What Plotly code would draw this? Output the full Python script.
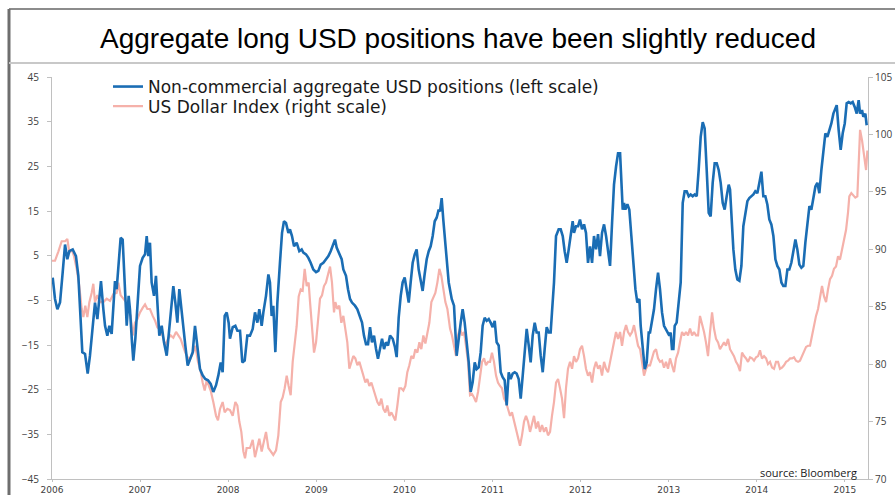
import pandas as pd
import plotly.graph_objects as go

# ---------------- data ----------------
title_text = "Aggregate long USD positions have been slightly reduced"
name_positions = "Non-commercial aggregate USD positions (left scale)"
name_dollar = "US Dollar Index (right scale)"
source_note = "source: Bloomberg"
year_ticks = list(range(2006, 2016))
left_ticks = [-45, -35, -25, -15, -5, 5, 15, 25, 35, 45]
right_ticks = [70, 75, 80, 85, 90, 95, 100, 105]

# (decimal year, net positions in USD bn) – left scale
positions = [
    (2006.008, 0.1), (2006.034, -4.7), (2006.061, -7.0), (2006.091, -5.5), (2006.121, 1.2), (2006.148, 7.5),
    (2006.174, 4.2), (2006.197, 6.0), (2006.235, 6.4), (2006.272, 4.9), (2006.299, 0.5), (2006.325, -10.0),
    (2006.344, -16.6), (2006.375, -17.0), (2006.405, -21.4), (2006.431, -17.4), (2006.462, -10.0), (2006.488, -5.5),
    (2006.515, -9.2), (2006.537, -4.0), (2006.556, -0.7), (2006.583, -7.0), (2006.602, -10.7), (2006.628, -12.9),
    (2006.651, -10.7), (2006.677, -12.5), (2006.696, -5.5), (2006.715, -0.7), (2006.734, -2.5), (2006.761, 4.2),
    (2006.779, 9.0), (2006.802, 8.6), (2006.825, -1.0), (2006.848, -10.7), (2006.870, -4.0), (2006.885, -7.0),
    (2006.908, -14.4), (2006.923, -18.5), (2006.946, -13.6), (2006.969, -7.0), (2006.999, 2.7), (2007.029, 4.5),
    (2007.056, 5.3), (2007.075, 9.4), (2007.093, 4.9), (2007.112, 7.9), (2007.131, -1.0), (2007.158, -4.0),
    (2007.180, 0.5), (2007.196, -5.5), (2007.218, -12.9), (2007.245, -10.7), (2007.271, -14.4), (2007.302, -17.4),
    (2007.324, -12.9), (2007.347, -7.7), (2007.377, -1.8), (2007.400, -5.5), (2007.423, -10.0), (2007.445, -2.5),
    (2007.468, -7.0), (2007.491, -12.2), (2007.513, -15.1), (2007.540, -19.6), (2007.566, -18.1), (2007.597, -16.6),
    (2007.623, -10.7), (2007.650, -15.9), (2007.680, -20.4), (2007.710, -21.8), (2007.740, -22.6), (2007.771, -22.9),
    (2007.801, -23.7), (2007.831, -25.5), (2007.862, -24.0), (2007.888, -21.8), (2007.915, -18.9), (2007.937, -21.1),
    (2007.960, -8.5), (2007.983, -7.7), (2008.005, -10.0), (2008.020, -13.6), (2008.051, -11.0), (2008.081, -10.7),
    (2008.104, -11.8), (2008.134, -11.8), (2008.160, -18.9), (2008.187, -18.5), (2008.217, -12.9),
    (2008.247, -12.9), (2008.278, -11.4), (2008.304, -7.7), (2008.331, -10.0), (2008.353, -7.0), (2008.380, -10.7),
    (2008.399, -7.7), (2008.429, -4.0), (2008.456, 0.8), (2008.474, -1.0), (2008.493, -8.5), (2008.512, -6.2),
    (2008.535, -16.6), (2008.558, -5.5), (2008.588, 3.6), (2008.611, 10.1), (2008.633, 12.7), (2008.656, 12.3),
    (2008.683, 10.1), (2008.701, 10.9), (2008.724, 9.4), (2008.747, 7.1), (2008.777, 7.9), (2008.807, 6.0),
    (2008.834, 6.4), (2008.853, 5.7), (2008.883, 5.3), (2008.910, 4.5), (2008.936, 3.4), (2008.966, 1.9),
    (2008.997, 1.3), (2009.023, 1.6), (2009.050, 3.0), (2009.080, 3.4), (2009.110, 4.2), (2009.137, 4.9),
    (2009.163, 6.0), (2009.193, 7.5), (2009.212, 8.6), (2009.231, 6.8), (2009.261, 5.3), (2009.288, 4.2),
    (2009.307, 1.9), (2009.337, 0.5), (2009.360, -2.5), (2009.383, -4.7), (2009.405, -5.5), (2009.439, -6.2),
    (2009.466, -7.0), (2009.496, -8.5), (2009.519, -10.0), (2009.541, -12.9), (2009.564, -14.8), (2009.587, -14.8),
    (2009.610, -11.0), (2009.632, -14.4), (2009.655, -12.9), (2009.678, -15.9), (2009.700, -18.1), (2009.723, -15.9),
    (2009.746, -13.6), (2009.769, -15.9), (2009.791, -14.4), (2009.814, -15.1), (2009.837, -12.9), (2009.867, -13.6),
    (2009.893, -15.5), (2009.912, -17.7), (2009.935, -8.9), (2009.958, -4.0), (2009.980, -1.0), (2010.003, 0.1),
    (2010.026, -2.5), (2010.049, -5.5), (2010.071, -1.0), (2010.094, 3.4), (2010.117, 5.3), (2010.139, 6.4),
    (2010.162, 1.9), (2010.185, -1.0), (2010.207, -2.9), (2010.230, 0.9), (2010.253, 4.2), (2010.276, 6.0),
    (2010.298, 7.1), (2010.321, 9.4), (2010.344, 12.7), (2010.366, 13.5), (2010.389, 15.3), (2010.404, 14.9),
    (2010.423, 17.9), (2010.442, 12.9), (2010.461, 8.6), (2010.480, 4.9), (2010.503, -1.0),
    (2010.537, -4.7), (2010.563, -6.2), (2010.593, -17.4), (2010.616, -12.9), (2010.639, -10.0), (2010.661, -7.0),
    (2010.684, -10.0), (2010.707, -14.4), (2010.730, -18.9), (2010.752, -25.5), (2010.775, -23.3), (2010.798, -18.9),
    (2010.820, -20.4), (2010.843, -20.0), (2010.866, -16.6), (2010.888, -10.7), (2010.911, -8.9), (2010.934, -9.6),
    (2010.957, -9.2), (2010.979, -10.0), (2011.002, -11.0), (2011.025, -9.6), (2011.047, -14.4), (2011.070, -15.1),
    (2011.093, -21.1), (2011.115, -22.2), (2011.138, -22.9), (2011.161, -28.5), (2011.184, -21.1), (2011.206, -22.6),
    (2011.229, -21.4), (2011.252, -21.1), (2011.274, -21.4), (2011.297, -22.6), (2011.320, -27.0), (2011.343, -21.8),
    (2011.365, -17.4), (2011.388, -11.4), (2011.411, -15.1), (2011.433, -18.9), (2011.456, -12.9), (2011.479, -10.0),
    (2011.501, -12.2), (2011.524, -12.2), (2011.547, -17.4), (2011.570, -21.1), (2011.592, -15.9), (2011.615, -11.0),
    (2011.638, -12.2), (2011.660, -12.2), (2011.675, -7.7), (2011.698, -1.0), (2011.721, 9.4), (2011.751, 10.9),
    (2011.774, 10.9), (2011.797, 9.4), (2011.819, 6.0), (2011.842, 3.4), (2011.865, 6.4), (2011.887, 10.1),
    (2011.910, 12.7), (2011.925, 10.1), (2011.948, 11.6), (2011.971, 11.6), (2011.993, 13.1), (2012.016, 10.9),
    (2012.039, 12.0), (2012.061, 10.1), (2012.084, 3.4), (2012.107, 7.1), (2012.130, 3.4), (2012.152, 9.4),
    (2012.175, 6.4), (2012.198, 9.8), (2012.220, 4.9), (2012.243, 10.1), (2012.266, 12.0), (2012.289, 9.4),
    (2012.311, 6.4), (2012.334, 2.7), (2012.357, 12.3), (2012.379, 20.9), (2012.402, 24.9), (2012.425, 27.9),
    (2012.448, 27.9), (2012.463, 22.7), (2012.478, 15.3), (2012.493, 16.8), (2012.508, 15.3), (2012.531, 16.5),
    (2012.553, 15.3), (2012.576, 9.4), (2012.599, 2.7), (2012.622, -2.5), (2012.644, -5.5), (2012.667, -4.7),
    (2012.682, -10.7), (2012.705, -15.1), (2012.728, -20.4), (2012.750, -18.9), (2012.773, -12.2),
    (2012.788, -12.2), (2012.810, -10.0), (2012.833, -7.0), (2012.856, -2.5), (2012.879, 1.2), (2012.901, -2.5),
    (2012.924, -7.7), (2012.947, -10.7), (2012.969, -11.4), (2012.992, -12.2), (2013.007, -12.9), (2013.022, -12.2),
    (2013.037, -15.9), (2013.053, -15.9), (2013.068, -10.7), (2013.090, -10.0), (2013.113, -5.5), (2013.136, -1.0),
    (2013.159, 16.8), (2013.181, 19.4), (2013.204, 19.4), (2013.227, 18.3), (2013.249, 18.7), (2013.272, 18.3),
    (2013.295, 18.7), (2013.318, 18.3), (2013.340, 24.2), (2013.363, 31.6), (2013.386, 34.9), (2013.408, 33.5),
    (2013.431, 24.2), (2013.454, 14.6), (2013.476, 13.8), (2013.499, 21.3), (2013.522, 25.7), (2013.545, 25.7),
    (2013.567, 24.2), (2013.590, 21.3), (2013.613, 16.8), (2013.635, 15.3), (2013.658, 18.3), (2013.681, 20.9),
    (2013.696, 19.8), (2013.711, 13.1), (2013.734, 6.4), (2013.756, 1.9), (2013.779, -0.3), (2013.802, -0.6),
    (2013.825, 2.7), (2013.847, 11.6), (2013.870, 14.6), (2013.893, 17.2), (2013.915, 17.9), (2013.938, 18.3),
    (2013.961, 18.7), (2013.983, 19.4), (2014.006, 19.0), (2014.029, 21.3), (2014.052, 23.8), (2014.074, 18.3),
    (2014.097, 18.3), (2014.120, 16.4), (2014.142, 13.1), (2014.165, 12.0), (2014.188, 9.4), (2014.211, 4.2),
    (2014.233, 2.7), (2014.256, 1.9), (2014.279, -1.0), (2014.301, -1.8), (2014.324, -1.8), (2014.347, 1.9),
    (2014.369, 1.9), (2014.392, 3.4), (2014.415, 6.4), (2014.438, 8.6), (2014.460, 6.4), (2014.483, 3.0),
    (2014.506, 2.3), (2014.528, 2.7), (2014.551, 7.9), (2014.574, 12.3), (2014.597, 16.1), (2014.619, 15.3),
    (2014.642, 18.3), (2014.665, 20.5), (2014.687, 21.3), (2014.710, 19.0), (2014.733, 24.2), (2014.755, 28.7),
    (2014.778, 32.4), (2014.801, 31.6), (2014.823, 33.1), (2014.846, 34.6), (2014.869, 36.8), (2014.892, 38.3),
    (2014.907, 38.7), (2014.929, 33.1), (2014.952, 28.7), (2014.975, 32.4), (2014.998, 34.6), (2015.020, 39.1),
    (2015.043, 39.4), (2015.066, 39.1), (2015.088, 39.4), (2015.111, 38.3), (2015.134, 36.8), (2015.156, 39.8),
    (2015.172, 36.8), (2015.194, 37.6), (2015.209, 36.1), (2015.232, 36.8), (2015.247, 34.2),
]

# (decimal year, DXY level) – right scale
dollar_index = [
    (2006.000, 89.0), (2006.034, 89.0), (2006.072, 89.8), (2006.110, 90.7), (2006.148, 90.7), (2006.174, 90.9),
    (2006.197, 89.7), (2006.223, 90.0), (2006.250, 89.4), (2006.280, 88.3), (2006.310, 86.8), (2006.337, 84.8),
    (2006.356, 84.1), (2006.378, 85.1), (2006.401, 84.1), (2006.424, 85.4), (2006.450, 86.2), (2006.469, 87.0),
    (2006.488, 85.4), (2006.515, 86.0), (2006.545, 85.4), (2006.583, 85.4), (2006.621, 85.7), (2006.658, 85.5),
    (2006.696, 86.1), (2006.734, 86.2), (2006.753, 87.1), (2006.779, 86.0), (2006.810, 85.7), (2006.840, 85.4),
    (2006.866, 84.8), (2006.893, 84.2), (2006.916, 82.5), (2006.942, 83.6), (2006.969, 83.9), (2006.999, 84.5),
    (2007.029, 84.9), (2007.056, 85.2), (2007.082, 84.8), (2007.112, 84.8), (2007.143, 84.2), (2007.169, 83.8),
    (2007.196, 83.2), (2007.226, 83.0), (2007.256, 82.5), (2007.286, 81.6), (2007.317, 82.2), (2007.347, 82.5),
    (2007.377, 82.3), (2007.408, 82.8), (2007.434, 82.5), (2007.460, 82.2), (2007.491, 81.5), (2007.513, 81.0),
    (2007.540, 80.6), (2007.566, 80.4), (2007.597, 80.9), (2007.627, 81.6), (2007.657, 80.2), (2007.687, 79.4),
    (2007.710, 78.4), (2007.733, 77.7), (2007.756, 78.6), (2007.778, 78.1), (2007.801, 77.7), (2007.831, 76.7),
    (2007.862, 75.5), (2007.884, 75.1), (2007.907, 76.1), (2007.937, 76.7), (2007.960, 75.8), (2007.990, 76.1),
    (2008.020, 76.0), (2008.051, 75.5), (2008.081, 76.7), (2008.104, 76.4), (2008.126, 75.0), (2008.149, 74.1),
    (2008.172, 72.4), (2008.191, 71.8), (2008.209, 72.7),
    (2008.247, 72.7), (2008.278, 73.4), (2008.304, 71.9), (2008.331, 72.9), (2008.353, 73.5), (2008.380, 72.4),
    (2008.406, 73.2), (2008.429, 74.1), (2008.456, 72.7), (2008.482, 72.4), (2008.512, 72.1), (2008.543, 72.5),
    (2008.569, 73.8), (2008.596, 76.7), (2008.618, 77.1), (2008.641, 77.9), (2008.664, 79.0), (2008.686, 78.1),
    (2008.709, 77.3), (2008.732, 80.2), (2008.754, 81.9), (2008.777, 83.3), (2008.800, 85.9), (2008.823, 86.5),
    (2008.845, 86.4), (2008.868, 88.3), (2008.891, 86.8), (2008.913, 87.1), (2008.929, 85.4), (2008.951, 82.8),
    (2008.974, 81.0), (2008.997, 81.9), (2009.019, 83.6), (2009.042, 85.7), (2009.065, 86.0), (2009.087, 86.8),
    (2009.110, 87.1), (2009.133, 87.7), (2009.156, 88.5), (2009.178, 87.1), (2009.201, 84.5), (2009.216, 85.4),
    (2009.239, 84.8), (2009.261, 85.1), (2009.284, 83.6), (2009.307, 84.2), (2009.330, 82.8), (2009.352, 81.9),
    (2009.375, 79.6), (2009.398, 80.2), (2009.420, 80.7), (2009.443, 80.5), (2009.466, 79.9), (2009.489, 80.2),
    (2009.511, 79.6), (2009.534, 79.0), (2009.557, 78.4), (2009.579, 78.7), (2009.602, 78.1), (2009.625, 78.4),
    (2009.647, 77.9), (2009.670, 77.3), (2009.693, 76.7), (2009.716, 76.4), (2009.738, 77.0), (2009.761, 76.1),
    (2009.784, 75.8), (2009.806, 76.4), (2009.829, 75.5), (2009.852, 75.8), (2009.875, 75.4), (2009.897, 75.1),
    (2009.920, 76.4), (2009.943, 77.9), (2009.965, 77.9), (2009.988, 77.7), (2010.011, 78.1), (2010.033, 79.3),
    (2010.056, 79.9), (2010.079, 80.7), (2010.102, 80.5), (2010.124, 81.3), (2010.147, 81.0), (2010.170, 81.9),
    (2010.192, 81.3), (2010.215, 82.5), (2010.238, 81.8), (2010.260, 82.8), (2010.283, 83.6), (2010.306, 85.4),
    (2010.329, 85.9), (2010.351, 86.2), (2010.374, 87.1), (2010.397, 88.3), (2010.419, 87.7), (2010.442, 86.5),
    (2010.465, 85.4), (2010.488, 84.8), (2010.510, 83.6),
    (2010.518, 83.1), (2010.540, 82.5), (2010.563, 81.6), (2010.586, 80.7), (2010.608, 82.5), (2010.631, 83.1),
    (2010.654, 82.5), (2010.677, 82.8), (2010.699, 81.6), (2010.722, 80.2), (2010.745, 77.3), (2010.767, 77.4),
    (2010.790, 77.1), (2010.813, 76.7), (2010.836, 77.6), (2010.858, 79.0), (2010.881, 80.2), (2010.904, 80.5),
    (2010.926, 79.9), (2010.949, 80.2), (2010.972, 80.2), (2010.994, 81.0), (2011.017, 80.2), (2011.040, 79.0),
    (2011.062, 78.4), (2011.085, 78.1), (2011.108, 77.9), (2011.131, 77.0), (2011.153, 76.7), (2011.176, 76.1),
    (2011.199, 75.5), (2011.221, 75.8), (2011.244, 75.0), (2011.267, 74.4), (2011.290, 73.5), (2011.312, 72.9),
    (2011.335, 73.8), (2011.358, 75.0), (2011.380, 75.5), (2011.403, 75.0), (2011.426, 74.1), (2011.448, 74.7),
    (2011.471, 75.5), (2011.494, 74.4), (2011.517, 75.0), (2011.539, 74.1), (2011.562, 74.7), (2011.585, 74.1),
    (2011.607, 74.5), (2011.630, 73.8), (2011.653, 74.1), (2011.675, 75.5), (2011.698, 76.7), (2011.721, 78.4),
    (2011.744, 78.7), (2011.766, 77.9), (2011.789, 77.0), (2011.812, 75.3), (2011.834, 77.9), (2011.857, 79.6),
    (2011.880, 80.2), (2011.903, 79.6), (2011.925, 80.7), (2011.948, 80.2), (2011.971, 80.5), (2011.993, 81.3),
    (2012.016, 81.6), (2012.039, 80.7), (2012.061, 79.6), (2012.084, 79.0), (2012.107, 79.3), (2012.130, 78.4),
    (2012.152, 79.6), (2012.175, 80.2), (2012.198, 79.6), (2012.220, 79.9), (2012.243, 79.0), (2012.266, 80.2),
    (2012.289, 79.6), (2012.311, 79.3), (2012.334, 80.2), (2012.357, 81.3), (2012.379, 82.2), (2012.402, 82.8),
    (2012.425, 82.2), (2012.448, 82.8), (2012.470, 81.6), (2012.493, 82.8), (2012.516, 83.4), (2012.538, 82.8),
    (2012.561, 82.5), (2012.584, 82.8), (2012.606, 83.4), (2012.629, 82.5), (2012.652, 81.6), (2012.675, 81.3),
    (2012.697, 80.2), (2012.720, 79.0), (2012.743, 79.6), (2012.765, 79.9),
    (2012.788, 79.9), (2012.810, 80.5), (2012.833, 81.1), (2012.856, 81.3), (2012.879, 80.5), (2012.901, 80.2),
    (2012.924, 80.3), (2012.947, 79.7), (2012.969, 80.2), (2012.992, 79.6), (2013.015, 80.5), (2013.037, 79.9),
    (2013.060, 79.3), (2013.083, 80.5), (2013.106, 81.0), (2013.128, 81.9), (2013.151, 82.8), (2013.174, 82.5),
    (2013.196, 82.8), (2013.219, 82.5), (2013.242, 83.1), (2013.265, 82.5), (2013.287, 82.8), (2013.310, 82.5),
    (2013.333, 82.5), (2013.355, 84.2), (2013.378, 83.6), (2013.401, 82.8), (2013.423, 81.9), (2013.446, 80.7),
    (2013.469, 82.8), (2013.492, 84.5), (2013.514, 83.1), (2013.537, 82.2), (2013.560, 81.9), (2013.582, 81.3),
    (2013.605, 81.6), (2013.628, 81.9), (2013.650, 81.6), (2013.673, 82.2), (2013.696, 81.3), (2013.719, 81.0),
    (2013.741, 80.7), (2013.764, 80.2), (2013.787, 79.9), (2013.809, 79.4), (2013.832, 81.0), (2013.855, 80.7),
    (2013.878, 80.5), (2013.900, 80.2), (2013.923, 80.6), (2013.946, 80.5), (2013.968, 80.3), (2013.991, 80.6),
    (2014.014, 80.7), (2014.036, 81.2), (2014.059, 80.5), (2014.082, 80.7), (2014.105, 80.5), (2014.127, 80.0),
    (2014.150, 80.2), (2014.173, 79.7), (2014.195, 79.6), (2014.218, 80.2), (2014.241, 80.2), (2014.263, 79.6),
    (2014.286, 79.7), (2014.309, 79.9), (2014.332, 80.2), (2014.354, 80.3), (2014.377, 80.5), (2014.400, 80.5),
    (2014.422, 80.6), (2014.445, 80.3), (2014.468, 80.2), (2014.490, 80.3), (2014.513, 80.7), (2014.536, 81.2),
    (2014.559, 81.5), (2014.581, 81.6), (2014.604, 81.6), (2014.627, 82.5), (2014.649, 83.4), (2014.672, 84.2),
    (2014.695, 84.8), (2014.717, 85.7), (2014.740, 86.8), (2014.763, 85.9), (2014.786, 85.4), (2014.808, 86.5),
    (2014.831, 87.4), (2014.854, 87.7), (2014.876, 88.3), (2014.899, 88.5), (2014.922, 89.4), (2014.944, 89.1),
    (2014.967, 90.0), (2014.990, 90.6), (2015.013, 91.7), (2015.035, 93.2), (2015.050, 94.6), (2015.073, 94.9),
    (2015.096, 94.7), (2015.118, 94.5), (2015.141, 94.6), (2015.156, 96.9), (2015.172, 100.4), (2015.194, 99.5),
    (2015.217, 98.1), (2015.240, 96.9), (2015.255, 98.6),
]


def to_date(decimal_year):
    return pd.Timestamp("2006-01-01") + pd.Timedelta(days=(decimal_year - 2006) * 365.25)


pos_x = [to_date(t) for t, _ in positions]
pos_y = [v for _, v in positions]
dxy_x = [to_date(t) for t, _ in dollar_index]
dxy_y = [v for _, v in dollar_index]

# ---------------- layout geometry ----------------
W, H = 895, 495
ML, MR, MT, MB = 52, 27, 77, 16
PW, PH = W - ML - MR, H - MT - MB


def px(x):
    return (x - ML) / PW


def py(y):
    return 1 - (y - MT) / PH


BLUE = "#1a6db4"
PINK = "#f5b1aa"
AXIS = "#c0c0c0"
TICKFONT = dict(family="Open Sans, Lato, sans-serif", size=10, color="#404040")
XTICKFONT = dict(family="DejaVu Sans, sans-serif", size=9, color="#404040")
LEGENDFONT = dict(family="DejaVu Sans, sans-serif", size=17, color="#1a1a1a")

fig = go.Figure()
fig.add_trace(go.Scatter(x=pos_x, y=pos_y, name=name_positions, mode="lines",
                         line=dict(color=BLUE, width=2.6), yaxis="y2", legend="legend"))
fig.add_trace(go.Scatter(x=dxy_x, y=dxy_y, name=name_dollar, mode="lines",
                         line=dict(color=PINK, width=2.2), yaxis="y", legend="legend2"))

legend_common = dict(xanchor="left", yanchor="middle", bgcolor="rgba(0,0,0,0)",
                     itemwidth=30, font=LEGENDFONT, borderwidth=0)

fig.update_layout(
    width=W, height=H,
    margin=dict(l=ML, r=MR, t=MT, b=MB, autoexpand=False),
    paper_bgcolor="white", plot_bgcolor="white",
    showlegend=True,
    legend=dict(x=px(108), y=py(87), **legend_common),
    legend2=dict(x=px(108), y=py(106.5), **legend_common),
    xaxis=dict(type="date", range=[to_date(2006.0), to_date(2015.262)],
               tickvals=[pd.Timestamp(f"{y}-01-01") for y in year_ticks],
               ticktext=[str(y) for y in year_ticks],
               ticks="outside", ticklen=2, tickcolor=AXIS, showline=True, linecolor=AXIS,
               linewidth=1, showgrid=False, zeroline=False, tickfont=XTICKFONT, automargin=False),
    yaxis=dict(range=[70, 105], tickvals=right_ticks, side="right",
               ticks="outside", ticklen=4, tickcolor=AXIS, showline=True, linecolor=AXIS,
               linewidth=1, showgrid=False, zeroline=False, tickfont=TICKFONT, automargin=False),
    yaxis2=dict(range=[-45, 45], tickvals=left_ticks, side="left", overlaying="y",
                ticks="outside", ticklen=4, tickcolor=AXIS, showline=True, linecolor=AXIS,
                linewidth=1, showgrid=False, zeroline=False, tickfont=TICKFONT, automargin=False,
                ticklabelstandoff=6),
)

# title
fig.add_annotation(text=title_text, xref="paper", yref="paper", x=px(458), y=py(38),
                   xanchor="center", yanchor="middle", showarrow=False,
                   font=dict(family="Liberation Sans, Arial, sans-serif", size=28, color="#000000"))
# source note
fig.add_annotation(text=source_note, xref="paper", yref="paper", x=px(859), y=py(472),
                   xanchor="right", yanchor="middle", showarrow=False,
                   font=dict(family="Open Sans, Lato, sans-serif", size=11, color="#1a1a1a"))

# frame lines around the chart box
fig.add_shape(type="line", xref="paper", yref="paper", x0=px(9), x1=px(W + 5), y0=py(9), y1=py(9),
              line=dict(color="#8c8c8c", width=2))
fig.add_shape(type="line", xref="paper", yref="paper", x0=px(9), x1=px(9), y0=py(9), y1=py(H + 5),
              line=dict(color="#6e6e6e", width=3))
fig.add_shape(type="line", xref="paper", yref="paper", x0=px(9), x1=px(W + 5), y0=py(63), y1=py(63),
              line=dict(color="#c8c8c8", width=2))

fig.write_html("out.html")
